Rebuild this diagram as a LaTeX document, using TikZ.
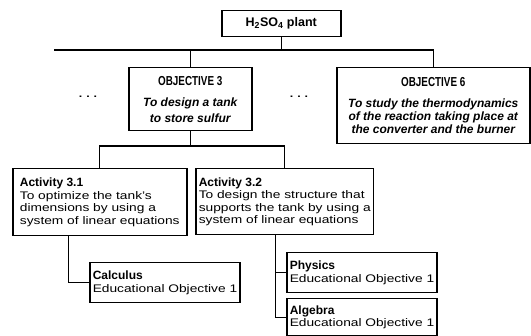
\documentclass[tikz,border=0pt]{standalone}
\usepackage{fontspec}
\setmainfont{Liberation Sans}[FakeStretch=1.25]
\newfontfamily\hdfont{Liberation Sans}
\newfontfamily\objfont{Liberation Sans}[FakeStretch=0.76]

\begin{document}
\begin{tikzpicture}[x=1pt, y=-1pt, line width=1.2pt,
  blk/.style={draw, line width=1.5pt, anchor=north west, inner xsep=3pt, inner ysep=2pt, font=\fontsize{11}{12.6}\selectfont},
  objblk/.style={blk, align=center, font=\hdfont\bfseries\itshape\fontsize{12}{13}\selectfont},
  actblk/.style={blk, align=left}]

\useasboundingbox (0,0) rectangle (531,336);

\node[blk, minimum width=119pt, minimum height=26pt] (plant) at (221,10) {\hdfont\bfseries\fontsize{12.5}{13}\selectfont H\textsubscript{2}SO\textsubscript{4} plant};

\node[objblk, minimum width=123pt, minimum height=63pt] (obj3) at (128,67) {{\objfont\upshape\fontsize{13}{13}\selectfont OBJECTIVE 3}\\[8pt]
  To design a tank\\[3pt] to store sulfur};
\node[objblk, minimum width=193pt, minimum height=76pt] (obj6) at (336,67) {{\objfont\upshape\fontsize{13}{13}\selectfont OBJECTIVE 6}\\[8pt]
  To study the thermodynamics\\ of the reaction taking place at\\ the converter and the burner};

\node (dota) at (88,97) {\textbf{.\hspace{4pt}.\hspace{4pt}.}};
\node (dotb) at (299,97) {\textbf{.\hspace{4pt}.\hspace{4pt}.}};

\node[actblk, minimum width=174pt, minimum height=67pt] (act1) at (12,168) {{\hdfont\bfseries\fontsize{12}{12.6}\selectfont Activity 3.1}\\ To optimize the tank's\\ dimensions by using a\\ system of linear equations};
\node[actblk, minimum width=175pt, minimum height=66pt] (act2) at (195,168) {{\hdfont\bfseries\fontsize{12}{12.6}\selectfont Activity 3.2}\\ To design the structure that\\ supports the tank by using a\\ system of linear equations};

\node[actblk, minimum width=146pt, minimum height=40pt] (calc) at (89,262) {{\hdfont\bfseries\fontsize{12}{12.6}\selectfont Calculus}\\ Educational Objective 1};
\node[actblk, minimum width=150pt, minimum height=40pt] (phys) at (286,252) {{\hdfont\bfseries\fontsize{12}{12.6}\selectfont Physics}\\ Educational Objective 1};
\node[actblk, minimum width=150pt, minimum height=37pt] (alg) at (286,298) {{\hdfont\bfseries\fontsize{12}{12.6}\selectfont Algebra}\\ Educational Objective 1};

% plant to objectives
\coordinate (lend) at (54,50);
\draw (lend) -- (obj6.north |- lend) -- (obj6.north);
\draw (plant.south) -- (plant.south |- lend);
\draw (obj3.north) -- (obj3.north |- lend);

% objective 3 to activities
\coordinate (mid) at (0,146);
\draw (obj3.south) -- (obj3.south |- mid);
\draw (act1.north) |- (act2.north |- mid) -- (act2.north);

% activities to subjects
\draw ([xshift=-31pt]act1.south) |- (calc.west);
\draw ([xshift=-9.5pt]act2.south) |- (alg.west);
\draw ([xshift=-9.5pt]act2.south |- phys.west) -- (phys.west);

\end{tikzpicture}
\end{document}
